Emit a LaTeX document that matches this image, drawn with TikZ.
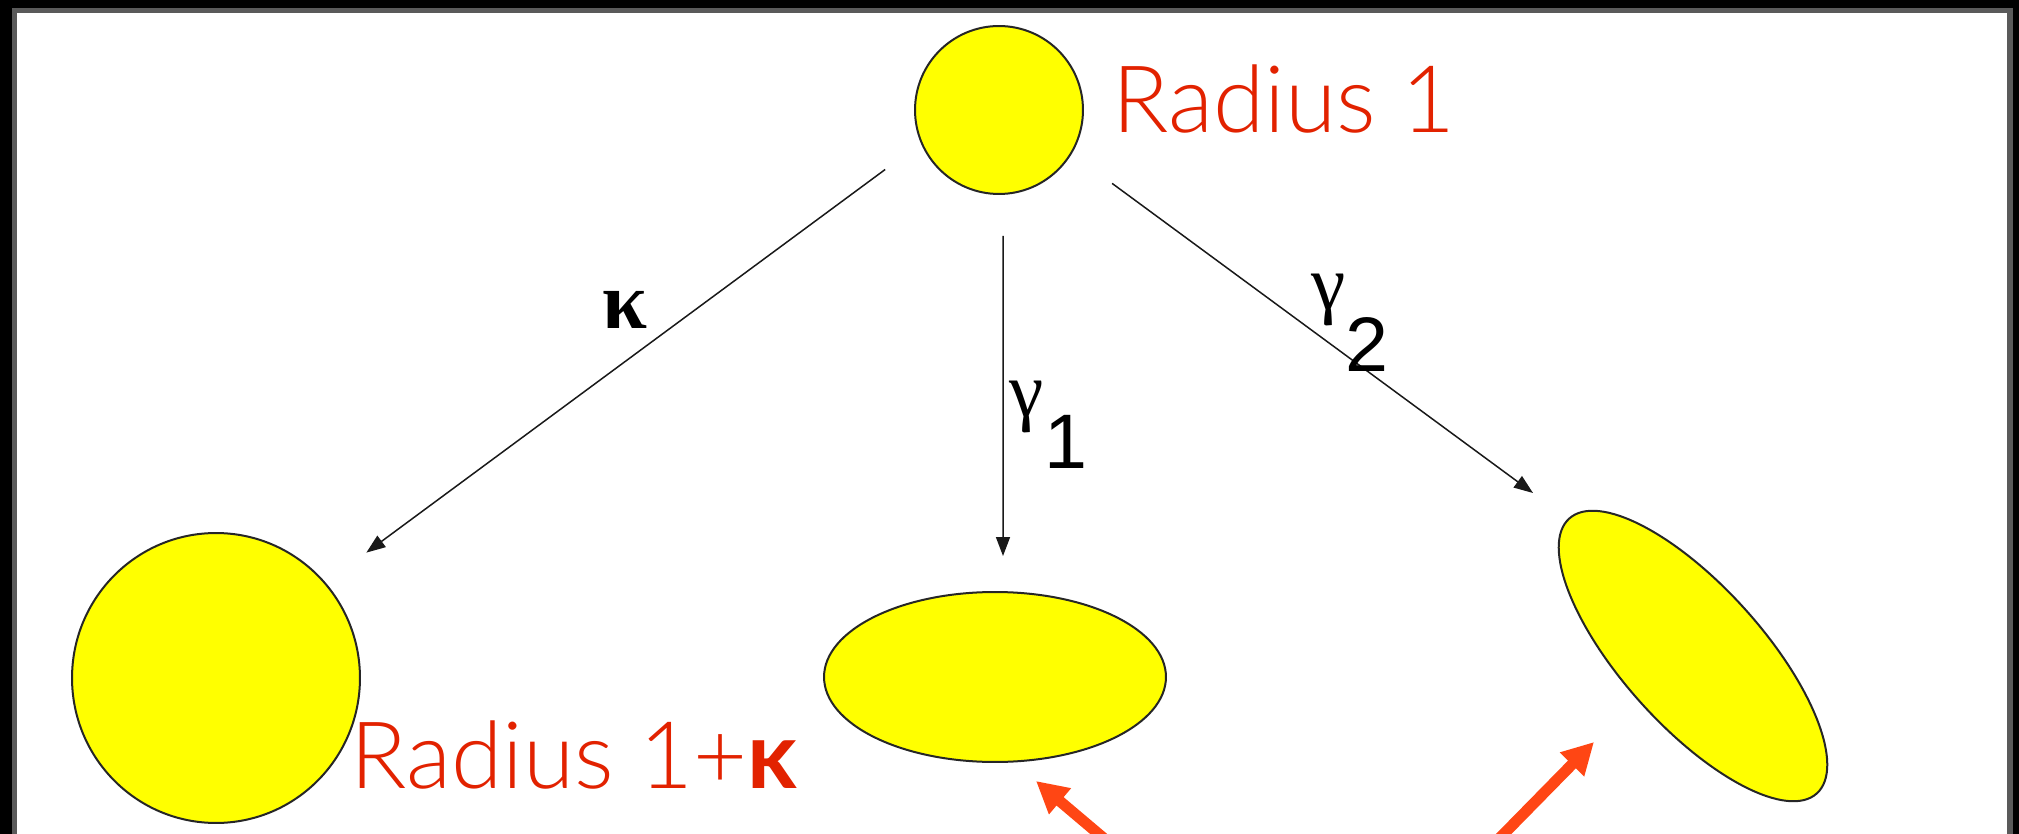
\documentclass[tikz,border=0pt]{standalone}
\usepackage{fontspec}
\setmainfont{Lato}[UprightFont={* Light}, BoldFont={* Bold}]
\newfontfamily\seriff{Liberation Serif}
\newfontfamily\arial{Liberation Sans}
\usetikzlibrary{arrows.meta,shapes.geometric}
\definecolor{redtext}{RGB}{226,34,0}
\definecolor{orangearr}{RGB}{255,70,20}
\definecolor{yel}{RGB}{255,255,0}
\definecolor{framegrey}{RGB}{90,90,90}
\begin{document}
\begin{tikzpicture}[x=0.02cm,y=-0.02cm,
 blob/.style={ellipse, draw=black!85, line width=0.04cm, fill=yel, inner sep=0pt},
 arr/.style={draw=black!90, line width=0.03cm, -{Triangle[length=0.38cm,width=0.28cm]}},
 oarr/.style={draw=orangearr, line width=0.22cm, -{Triangle[length=0.63cm,width=0.64cm]}},
 redlbl/.style={text=redtext, font=\fontsize{53}{60}\selectfont, inner sep=0pt, anchor=base west},
 glbl/.style={font=\fontsize{44}{50}\selectfont, inner sep=0pt}
]
\useasboundingbox (0,0) rectangle (2019,834);
\clip (0,0) rectangle (2019,834);
\fill[black] (0,0) rectangle (2019,834);
\fill[framegrey] (12,8) rectangle (2013,900);
\fill[white] (17,13) rectangle (2007,900);

% shapes
\node[blob, minimum width=3.36cm, minimum height=3.36cm] (top) at (999,110) {};
\node[blob, minimum width=5.76cm, minimum height=5.8cm] (left) at (216,678) {};
\node[blob, minimum width=6.84cm, minimum height=3.4cm] (mid) at (995,677) {};
\node[blob, minimum width=7.4cm, minimum height=2.8cm, rotate=-48] (tilt) at (1693,656) {};

% red labels
\node[redlbl] (r1) at (1112,133) {Radius 1};
\node[redlbl] (r2) at (350,788) {Radius 1+{\bfseries κ}};

% black arrows
\coordinate (g2end) at (1533,493);
\draw[arr, shorten <=0.886cm, shorten >=1.01cm] (top.203) -- (left.41);
\draw[arr, shorten <=0.82cm, shorten >=0.7cm] ([xshift=0.08cm]top.south) -- ([xshift=0.16cm]mid.north);
\draw[arr, shorten <=1.0cm] (top.-31) -- (g2end);

% black labels
\node[glbl, font=\seriff\bfseries\fontsize{46}{52}\selectfont] (klbl) at (624.5,310) {κ};
\node[glbl] (g1lbl) at (1048.5,425) {\seriff γ\raisebox{-1.04cm}{\arial 1}};
\node[glbl] (g2lbl) at (1350,322.5) {\seriff γ\raisebox{-1.24cm}{\arial 2}};

% orange arrows
\coordinate (o1s) at (1120,852);
\coordinate (o1e) at (1036,781);
\coordinate (o2s) at (1486,852);
\coordinate (o2e) at (1594,742);
\draw[oarr] (o1s) -- (o1e);
\draw[oarr] (o2s) -- (o2e);
\end{tikzpicture}
\end{document}
